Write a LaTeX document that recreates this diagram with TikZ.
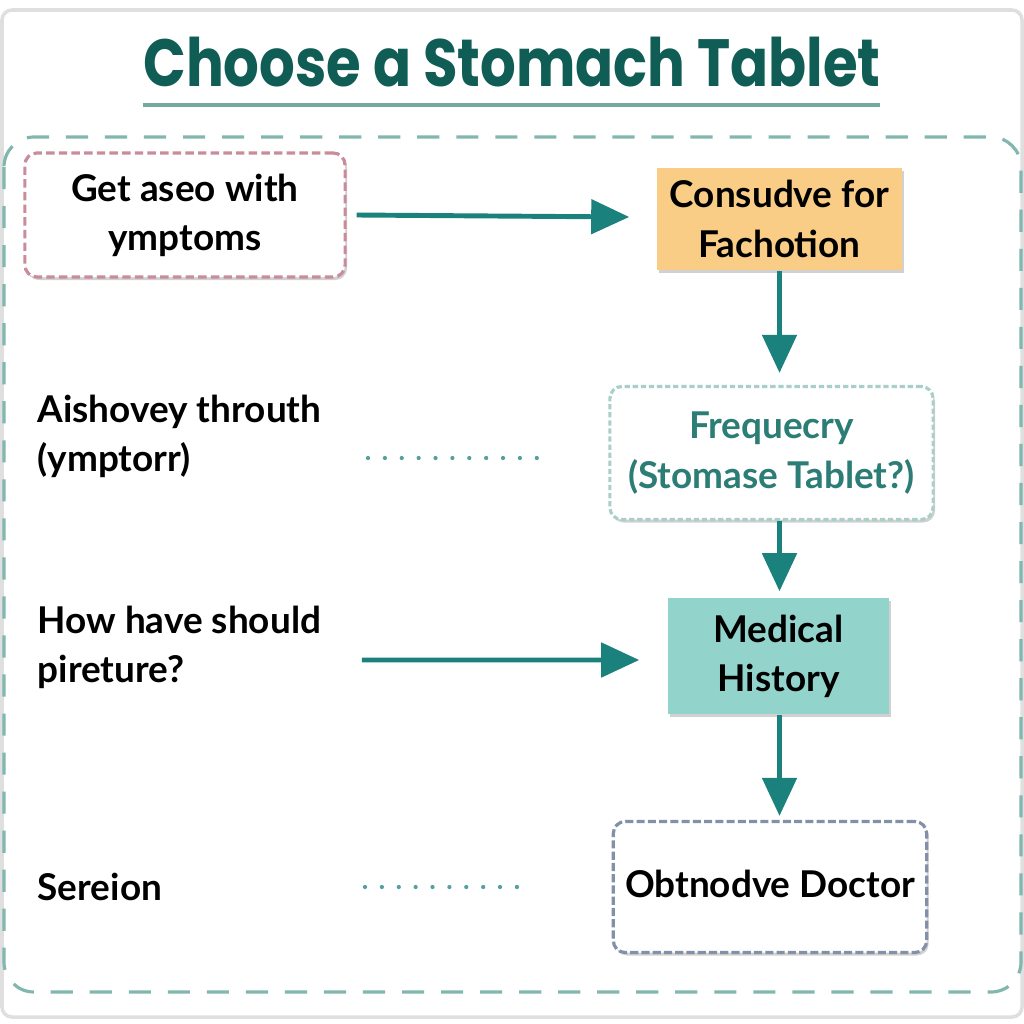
\documentclass[tikz,border=0pt]{standalone}
\usepackage{fontspec}
\setmainfont{Lato}
\newfontfamily\titlefont{Poppins}
\usetikzlibrary{arrows.meta,shadows}

\definecolor{titleteal}{HTML}{0F5D54}
\definecolor{ruleteal}{HTML}{74A9A1}
\definecolor{frameteal}{HTML}{82B7B0}
\definecolor{arrowteal}{HTML}{1B817D}
\definecolor{pinkline}{HTML}{C98C9B}
\definecolor{orangefill}{HTML}{F9CD86}
\definecolor{mintline}{HTML}{A8D0C9}
\definecolor{minttext}{HTML}{2C7D75}
\definecolor{tealfill}{HTML}{92D4CC}
\definecolor{slateline}{HTML}{8391A8}

\newcommand{\lblfont}{\fontsize{10.5}{14}\selectfont\bfseries}

\begin{document}
\begin{tikzpicture}[x=0.01cm,y=-0.01cm,
  every node/.style={font=\lblfont,text=black},
  boxshadow/.style={drop shadow={shadow xshift=0.02cm,shadow yshift=-0.03cm,opacity=0.18,fill=black}},
  pinkbox/.style={draw=pinkline,fill=white,line width=0.9pt,dash pattern=on 2.4pt off 1.2pt,
    rounded corners=0.12cm,minimum width=3.2cm,minimum height=1.24cm,align=center,boxshadow},
  orangebox/.style={fill=orangefill,minimum width=2.45cm,minimum height=1.02cm,align=center,boxshadow},
  mintbox/.style={draw=mintline,fill=white,line width=0.9pt,dash pattern=on 1.5pt off 0.8pt,
    rounded corners=0.12cm,minimum width=3.23cm,minimum height=1.33cm,align=center,text=minttext,boxshadow},
  tealbox/.style={fill=tealfill,minimum width=2.21cm,minimum height=1.16cm,align=center,boxshadow},
  slatebox/.style={draw=slateline,fill=white,line width=0.9pt,dash pattern=on 2.3pt off 0.9pt,
    rounded corners=0.12cm,minimum width=3.06cm,minimum height=1.31cm,align=center,boxshadow},
  sidelbl/.style={anchor=west,align=left,inner sep=0pt},
  flow/.style={draw=arrowteal,line width=1.4pt,-{Triangle[length=0.38cm,width=0.34cm]}},
  dotline/.style={draw=arrowteal!75,line width=1.2pt,line cap=round,dash pattern=on 0pt off 4.8pt}]

  \useasboundingbox (0,0) rectangle (1024,1024);
  \fill[white] (0,0) rectangle (1024,1024);
  \draw[gray!25,line width=1pt,rounded corners=0.1cm] (2,10) rectangle (1022,1017);

  % heading
  \node[inner sep=0pt] (title) at (512,62)
    {\scalebox{0.84}[1]{\titlefont\fontsize{19}{22}\selectfont\bfseries\color{titleteal}Choose a Stomach Tablet}};
  \draw[ruleteal,line width=1.1pt] (143,105) -- (880,105);

  % outer frame
  \draw[frameteal,line width=0.9pt,dash pattern=on 6.3pt off 4.8pt,rounded corners=0.3cm]
    (4,137) rectangle (1021,992);

  % right column
  \node[pinkbox]   (aseo)    at (185,215)   {Get aseo with\\ymptoms};
  \node[orangebox] (consud)  at (779.5,219) {Consudve for\\Fachotion};
  \node[mintbox]   (freq)    at (771.5,453) {Frequecry\\(Stomase Tablet?)};
  \node[tealbox]   (medical) at (778.5,656) {Medical\\History};
  \node[slatebox]  (doctor)  at (770,887)   {\raisebox{0.07cm}{Obtnodve Doctor}};

  % left labels
  \node[sidelbl] (aishovey) at (37,436) {Aishovey throuth\\(ymptorr)};
  \node[sidelbl] (howhave)  at (37,647) {How have should\\pireture?};
  \node[sidelbl] (sereion)  at (37,887) {Sereion};

  \coordinate (dotA1) at (368,458);
  \coordinate (dotA2) at (542,458);
  \coordinate (dotB1) at (365,887);
  \coordinate (dotB2) at (525,887);

  \draw[flow] ([xshift=0.1cm]aseo.east) -- ([xshift=-0.27cm,yshift=0.02cm]consud.west);
  \draw[flow] (consud.south) -- ([yshift=0.12cm]consud.south |- freq.north);
  \draw[flow] (consud.south |- freq.south) -- ([yshift=0.06cm]consud.south |- medical.north);
  \draw[flow] (consud.south |- medical.south) -- ([yshift=0.04cm]consud.south |- doctor.north);
  \draw[flow] ([xshift=0.4cm,yshift=-0.13cm]howhave.east) -- ([xshift=-0.28cm,yshift=-0.04cm]medical.west);

  \draw[dotline] (dotA1) -- (dotA2);
  \draw[dotline] (dotB1) -- (dotB2);
\end{tikzpicture}
\end{document}
